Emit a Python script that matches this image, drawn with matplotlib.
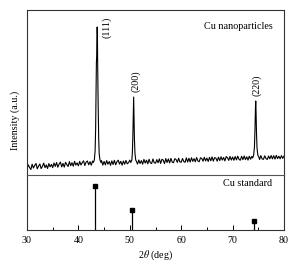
import matplotlib
matplotlib.use("Agg")
import matplotlib.pyplot as plt
import numpy as np

plt.rcParams['font.family'] = ['Liberation Serif', 'DejaVu Serif']
plt.rcParams['mathtext.fontset'] = 'stix'

# Baseline (noisy background), 30..80 deg at 0.25 deg step
base_start = 30.0
base_step = 0.25
base_y = [
    6.0, 10.2, 7.5, 5.4, 10.8, 7.0, 9.6, 11.5, 6.2, 8.9, 11.0, 6.4, 8.7, 11.9, 7.3, 10.1, 6.5, 11.4, 8.2, 10.6,
    7.4, 12.0, 8.6, 12.5, 7.8, 10.9, 13.0, 8.1, 11.6, 7.9, 12.7, 10.4, 8.5, 13.4, 9.3, 12.3, 8.8, 13.6, 9.9, 12.1,
    9.2, 13.6, 10.0, 12.4, 14.2, 9.5, 12.9, 14.0, 10.2, 13.3, 9.8, 13.9, 10.6, 14.5, 11.0, 13.0, 13.8, 10.3, 14.3, 9.9,
    13.6, 10.1, 14.4, 10.8, 13.5, 9.7, 14.1, 10.5, 14.7, 10.2, 13.3, 14.8, 10.9, 13.7, 9.8, 14.0, 10.7, 14.6, 11.2, 12.4,
    14.9, 11.1, 14.1, 10.6, 15.3, 11.8, 10.9, 15.0, 11.5, 14.4, 10.8, 15.6, 11.9, 14.8, 11.2, 15.7, 12.1, 11.5, 16.0, 12.3,
    11.8, 15.4, 12.2, 16.1, 11.6, 15.7, 14.9, 11.4, 16.4, 12.5, 16.1, 12.1, 16.6, 12.9, 12.3, 16.3, 15.5, 12.6, 16.8, 13.0,
    12.8, 16.5, 13.5, 12.7, 17.1, 13.0, 16.7, 12.9, 17.3, 13.6, 16.4, 13.2, 17.5, 14.0, 13.3, 17.2, 16.6, 13.8, 17.7, 14.1,
    16.9, 13.5, 17.6, 14.2, 18.1, 13.9, 17.4, 16.9, 13.8, 17.8, 14.4, 18.2, 14.9, 17.5, 14.1, 18.4, 17.3, 14.6, 18.6, 14.9,
    18.0, 14.7, 18.5, 15.1, 18.9, 15.6, 14.8, 18.7, 15.3, 19.0, 15.4, 18.2, 14.9, 18.8, 15.8, 18.6, 15.2, 19.1, 15.6, 18.3,
    18.9, 15.5, 19.4, 16.0, 15.7, 19.2, 16.3, 15.6, 19.0, 16.2, 19.5, 16.1, 19.3, 15.9, 19.6, 16.4, 18.8, 16.2, 19.4, 16.6, 19.0,
]

# Peak profiles (2theta, intensity)
p111_x = [42.9, 43.1, 43.25, 43.35, 43.45, 43.5, 43.55, 43.6, 43.65, 43.7, 43.75, 43.85, 43.95, 44.05, 44.2, 44.4]
p111_y = [12.5, 15, 24, 45, 90, 112, 118, 135, 148, 140, 110, 68, 36, 21, 15, 12.5]
p200_x = [50.2, 50.4, 50.5, 50.6, 50.68, 50.75, 50.82, 50.9, 51.0, 51.15, 51.3]
p200_y = [12.5, 15, 22, 40, 62, 78, 60, 36, 22, 15, 13.5]
p220_x = [73.9, 74.1, 74.25, 74.35, 74.45, 74.5, 74.55, 74.65, 74.75, 74.9, 75.1]
p220_y = [17, 20, 28, 45, 68, 74, 66, 42, 27, 20, 18]

peak_labels = ["(111)", "(200)", "(220)"]
label_x = [45.5, 51.2, 74.75]
label_top = [158, 105, 100]

# Cu standard sticks
std_x = [43.3, 50.4, 74.1]
std_y = [100, 46, 20]

# assemble the pattern
bx = base_start + base_step * np.arange(len(base_y))
by = np.array(base_y)
peaks = [(p111_x, p111_y), (p200_x, p200_y), (p220_x, p220_y)]
mask = np.ones(len(bx), bool)
for px, py in peaks:
    mask &= ~((bx >= px[0]) & (bx <= px[-1]))
x_all = np.concatenate([bx[mask]] + [np.array(px) for px, _ in peaks])
y_all = np.concatenate([by[mask]] + [np.array(py) for _, py in peaks])
order = np.argsort(x_all)
x_all = x_all[order]
y_all = y_all[order]

W, H = 300, 275
fig = plt.figure(figsize=(W / 100, H / 100), dpi=100)
L, R = 27, 284
ax2 = fig.add_axes([L / W, (H - 230) / H, (R - L) / W, (230 - 175) / H])
ax1 = fig.add_axes([L / W, (H - 175) / H, (R - L) / W, (175 - 10) / H])
ax1.patch.set_visible(False)

ax1.plot(x_all, y_all, color='black', lw=0.8)
ax1.set_xlim(30, 80)
ax1.set_ylim(0, 165)
ax1.set_xticks([])
ax1.set_yticks([])
for s in ax1.spines.values():
    s.set_linewidth(0.8)
    s.set_color('#333333')
ax1.spines['bottom'].set_color('#555555')

for lab, px, yt in zip(peak_labels, label_x, label_top):
    ax1.text(px, yt, lab, rotation=90, ha='center', va='top', fontsize=7.2)

ax1.text(0.955, 0.9, "Cu nanoparticles", transform=ax1.transAxes, ha='right', va='center', fontsize=7.3)

ax2.vlines(std_x, 0, std_y, color='black', lw=0.9)
ax2.plot(std_x, std_y, 's', color='black', ms=3.5)
ax2.set_xlim(30, 80)
ax2.set_ylim(0, 124)
ax2.set_yticks([])
ax2.set_xticks([30, 40, 50, 60, 70, 80])
ax2.set_xticks(np.arange(35, 80, 10), minor=True)
ax2.tick_params(axis='x', which='major', direction='in', length=3.5, width=0.7, labelsize=7.2, pad=4, top=False)
ax2.tick_params(axis='x', which='minor', direction='in', length=2, width=0.7, top=False)
ax2.spines['top'].set_visible(False)
for s in ['left', 'right', 'bottom']:
    ax2.spines[s].set_linewidth(0.8)
    ax2.spines[s].set_color('#333333')
ax2.text(0.955, 0.85, "Cu standard", transform=ax2.transAxes, ha='right', va='center', fontsize=7.3)
ax2.set_xlabel(r"2$\theta$ (deg)", fontsize=7.2, labelpad=3)

fig.text(15 / W, 1 - 120 / H, "Intensity (a.u.)", rotation=90, ha='center', va='center', fontsize=7.2)

fig.savefig("out.png", dpi=100)
